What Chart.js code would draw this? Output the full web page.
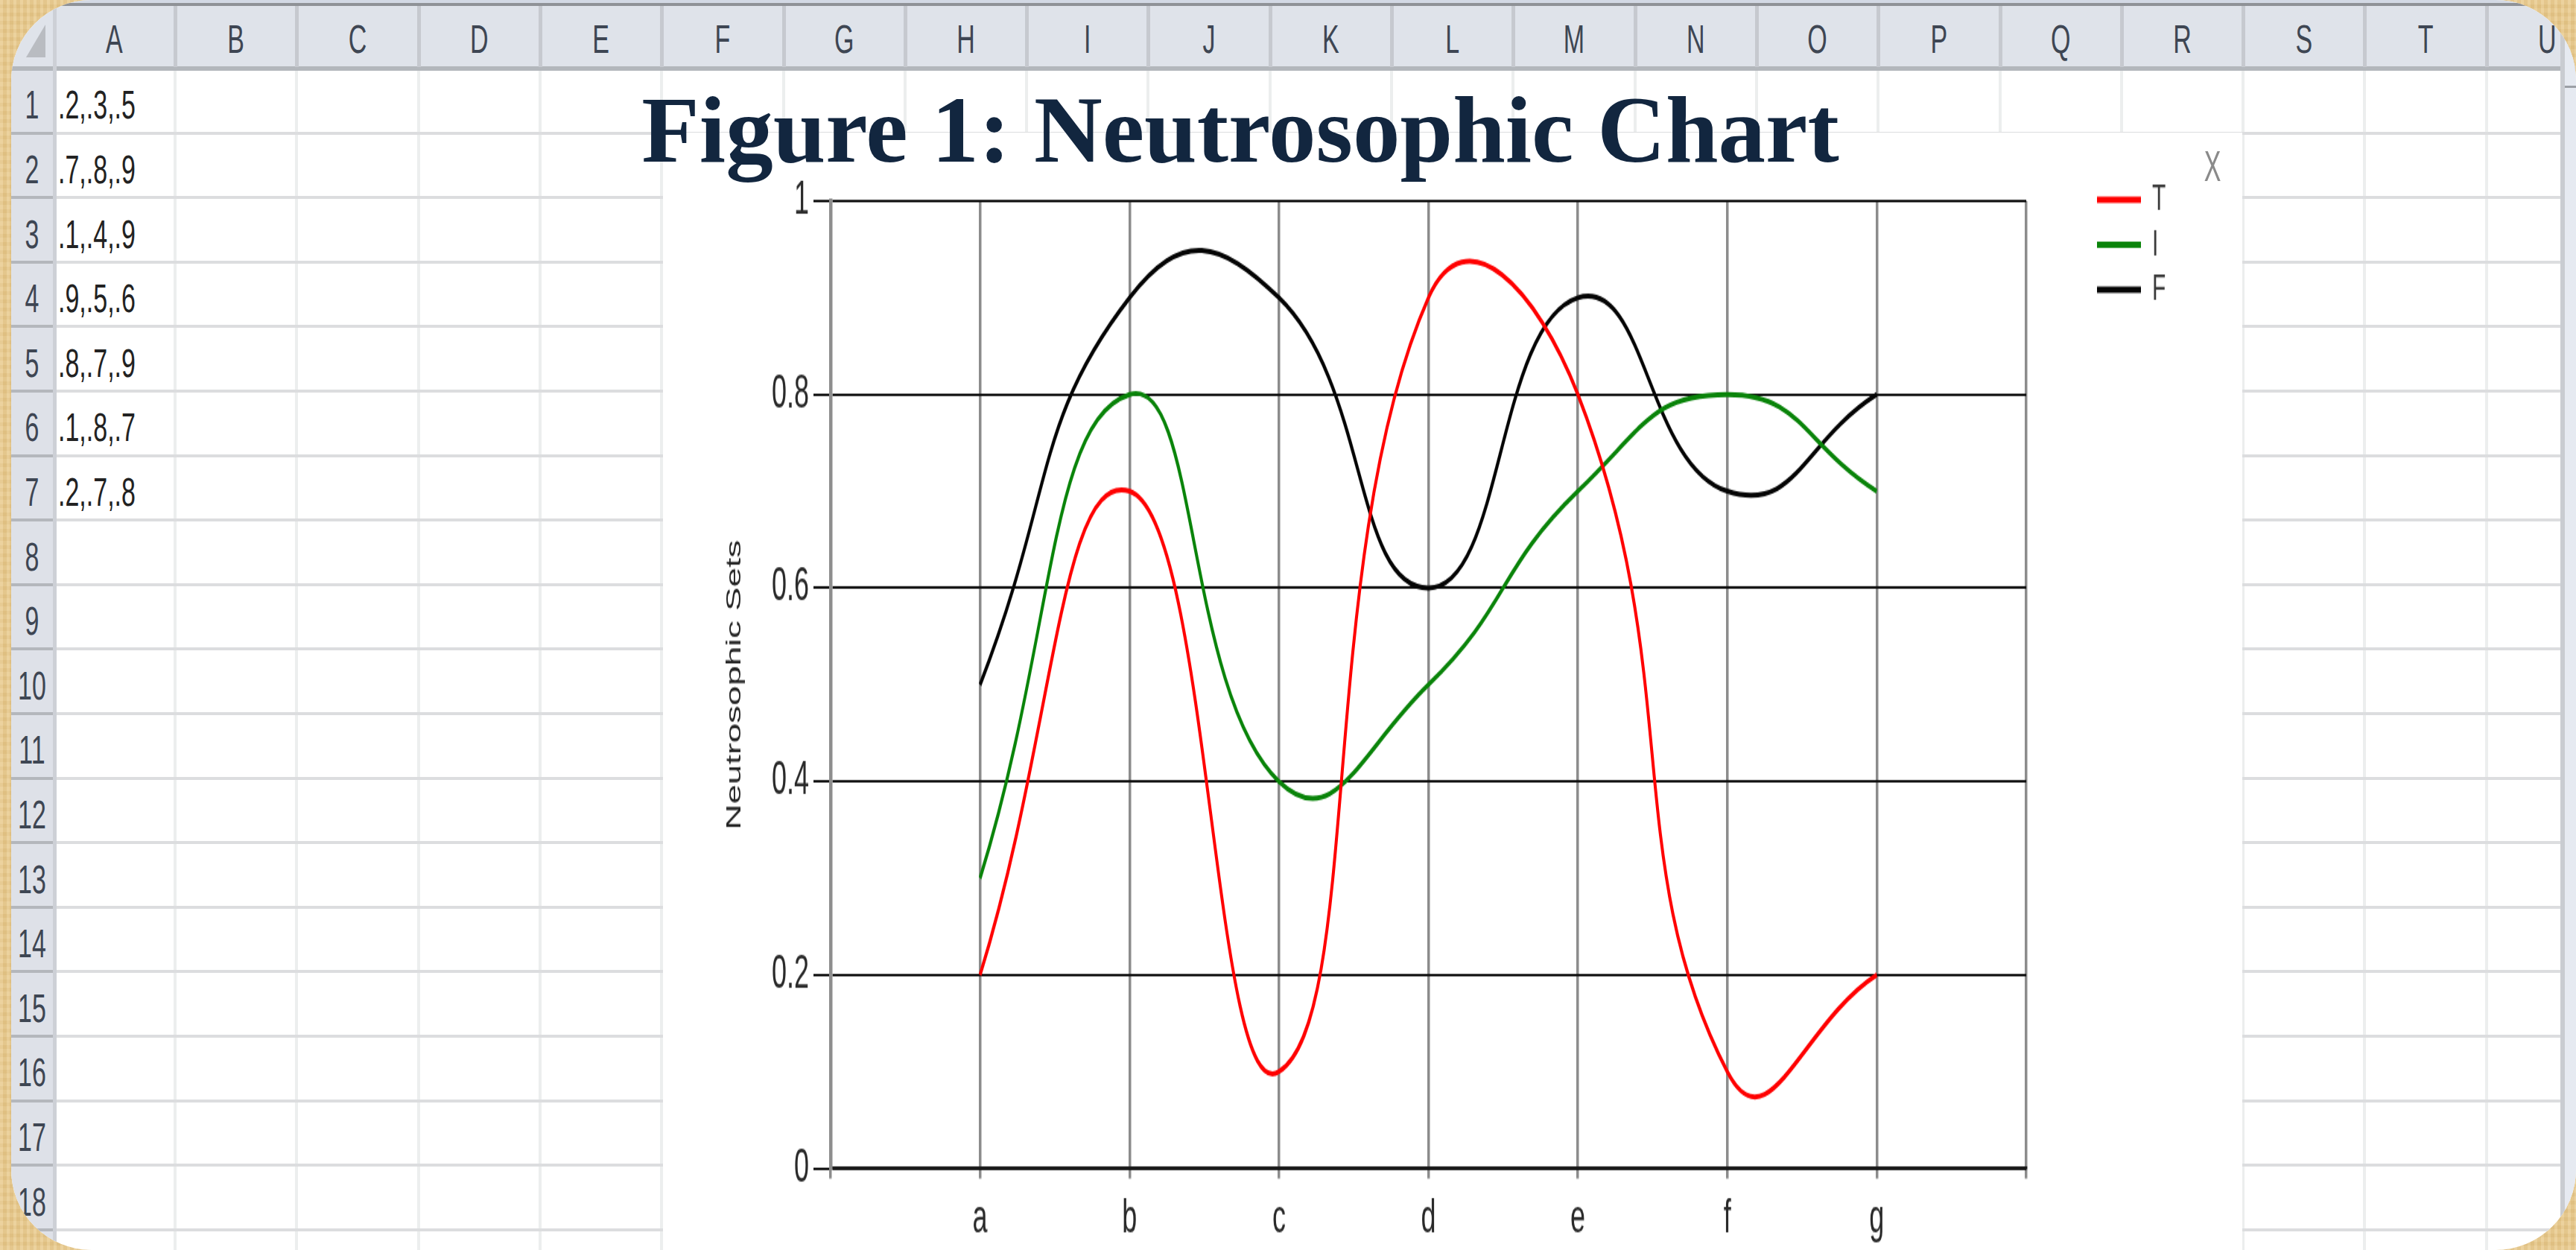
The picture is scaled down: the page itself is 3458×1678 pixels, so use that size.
<!DOCTYPE html>
<html>
<head>
<meta charset="utf-8">
<script src="https://cdn.jsdelivr.net/npm/chart.js@4.4.1/dist/chart.umd.min.js"></script>
<style>
html,body{margin:0;padding:0;width:3458px;height:1678px;overflow:hidden;}
body{position:relative;background:#E9CA8C;
  background-image:repeating-linear-gradient(90deg,rgba(255,255,255,0.10) 0 4px,rgba(120,80,20,0.05) 4px 9px),
                   repeating-linear-gradient(0deg,rgba(255,255,255,0.06) 0 6px,rgba(120,80,20,0.04) 6px 11px);}
#sheet{position:absolute;left:15px;top:0;width:3443px;height:1678px;border-radius:108px;overflow:hidden;background:#fff;}
.r{position:absolute;}
.txt{position:absolute;font-family:'Liberation Sans',Arial,sans-serif;font-size:34px;line-height:34px;height:34px;white-space:nowrap;}
.txt span{display:inline-block;transform:scaleY(1.6);}
.tri{position:absolute;width:0;height:0;border-left:26px solid transparent;border-bottom:44px solid #B9BCC1;}
#chartBox{position:absolute;left:890px;top:178px;width:2120px;height:1500px;background:#fff;overflow:hidden;}
#stretch{position:absolute;left:0;top:0;width:2120px;height:882px;transform-origin:0 0;transform:scaleY(1.70068);}
#xmark{position:absolute;left:2080px;top:9px;transform:translateX(-50%);font-family:'Liberation Sans',Arial,sans-serif;font-size:34px;line-height:34px;color:#8a8a8a;}
#title{position:absolute;left:1665px;top:111px;transform:translateX(-50%);white-space:nowrap;
  font-family:'Liberation Serif','Times New Roman',serif;font-weight:bold;font-size:127px;line-height:127px;color:#12263F;}
</style>
</head>
<body>
<div id="sheet"></div>
<div id="chartBox">
  <div id="stretch">
    <canvas id="c" width="2120" height="882"></canvas>
    <div id="xmark">X</div>
  </div>
</div>
<div id="title">Figure 1: Neutrosophic Chart</div>
<script>
// ---------- data ----------
const CATEGORIES = ['a', 'b', 'c', 'd', 'e', 'f', 'g'];
const T_VALUES = [0.2, 0.7, 0.1, 0.9, 0.8, 0.1, 0.2];
const I_VALUES = [0.3, 0.8, 0.4, 0.5, 0.7, 0.8, 0.7];
const F_VALUES = [0.5, 0.9, 0.9, 0.6, 0.9, 0.7, 0.8];
const SERIES_NAMES = ['T', 'I', 'F'];
const Y_TICK_LABELS = ['0', '0.2', '0.4', '0.6', '0.8', '1'];
const COLUMN_LETTERS = ['A','B','C','D','E','F','G','H','I','J','K','L','M','N','O','P','Q','R','S','T','U'];
const ROW_NUMBERS = [1,2,3,4,5,6,7,8,9,10,11,12,13,14,15,16,17,18];

// ---------- spreadsheet backdrop ----------
const sheet = document.getElementById('sheet');
const SX = 15;
function rect(x, y, w, h, c) {
  const d = document.createElement('div');
  d.className = 'r';
  d.style.cssText = `left:${x - SX}px;top:${y}px;width:${w}px;height:${h}px;background:${c};`;
  sheet.appendChild(d);
}
function text(str, x, cy, align, color) {
  const d = document.createElement('div');
  d.className = 'txt';
  d.style.top = (cy - 17) + 'px';
  d.style.left = (x - SX) + 'px';
  d.style.color = color;
  if (align === 'center') d.style.transform = 'translateX(-50%)';
  const s = document.createElement('span');
  s.textContent = str;
  d.appendChild(s);
  sheet.appendChild(d);
}
const COL0 = 235, COLW = 163.3, ROW0 = 92, ROWH = 86.6;
rect(15, 0, 3443, 4, '#D3D9E4');
rect(15, 4, 3443, 4, '#8F9297');
rect(15, 8, 3443, 82, '#DFE3EA');
rect(15, 89, 3443, 6, '#B3B7BC');
rect(15, 95, 56, 1583, '#DEE1E8');
for (let k = 0; k < COLUMN_LETTERS.length - 1; k++) {
  const x = COL0 + COLW * k - 2;
  rect(x, 8, 5, 82, '#C6C9CF');
  rect(x, 95, 4, 1583, '#ECEEEE');
}
ROW_NUMBERS.forEach((r) => {
  const y = ROW0 + ROWH * r - 2;
  rect(76, y, 3361, 4, '#DCDDDF');
  rect(15, y, 56, 4, '#B4B7BC');
});
rect(71, 8, 5, 1670, '#CDD0D6');
rect(3437, 8, 6, 1670, '#C9CCD1');
rect(3443, 8, 15, 1670, '#E6EAF1');
rect(3443, 115, 15, 3, '#9CA0A6');
const tri = document.createElement('div');
tri.className = 'tri';
tri.style.left = (35 - SX) + 'px';
tri.style.top = '33px';
sheet.appendChild(tri);

COLUMN_LETTERS.forEach((L, k) => text(L, COL0 - COLW / 2 + COLW * k, 52, 'center', '#3E4653'));
const fmt = (v) => v.toFixed(1).replace(/^0\./, '.');
ROW_NUMBERS.forEach((r, i) => {
  const cy = ROW0 + ROWH * (r - 0.5) + 5;
  text(String(r), 43, cy, 'center', '#3E4653');
  if (i < T_VALUES.length) {
    text([T_VALUES[i], I_VALUES[i], F_VALUES[i]].map(fmt).join(','), 78, cy, 'left', '#222');
  }
});

// ---------- chart ----------
const FONT = 'Liberation Sans';
const toPts = (vals) => vals.map((v, i) => ({ x: i + 1, y: v }));
const COLORS = ['#ff0000', '#0a840a', '#050505'];
const SERIES = [T_VALUES, I_VALUES, F_VALUES];

const legendPlacer = {
  id: 'legendPlacer',
  afterLayout(chart) {
    const lg = chart.legend;
    if (!lg) return;
    const w = lg.width, h = lg.height;
    lg.left = 1919.5; lg.right = lg.left + w;
    lg.top = 32.4; lg.bottom = lg.top + h;
  }
};

new Chart(document.getElementById('c'), {
  type: 'line',
  data: {
    datasets: SERIES.map((vals, s) => ({
      label: SERIES_NAMES[s],
      data: toPts(vals),
      borderColor: COLORS[s],
      backgroundColor: COLORS[s],
      borderWidth: 4,
      pointRadius: 0,
      tension: 0.5,
      fill: false
    }))
  },
  options: {
    responsive: false,
    animation: false,
    devicePixelRatio: 1,
    layout: { padding: { top: 54, right: 290, bottom: 0, left: 0 } },
    scales: {
      x: {
        type: 'linear',
        min: 0,
        max: CATEGORIES.length + 1,
        ticks: {
          stepSize: 1, autoSkip: false, maxRotation: 0, padding: 11,
          color: '#2a2a2a', font: { family: FONT, size: 36 },
          callback: (v) => CATEGORIES[v - 1] ?? ''
        },
        grid: { color: '#8c8c8c', lineWidth: 3.5, tickLength: 8 },
        border: { color: '#1a1a1a', width: 2.5 },
        afterFit: (s) => { s.height = 64.4; }
      },
      y: {
        min: 0,
        max: 1,
        ticks: {
          stepSize: 0.2, padding: 6,
          color: '#2a2a2a', font: { family: FONT, size: 36 },
          callback: (v, i) => Y_TICK_LABELS[i]
        },
        grid: { color: '#111111', lineWidth: 2, tickLength: 23 },
        border: { color: '#8e8e8e', width: 4.5 },
        title: {
          display: true, text: 'Neutrosophic Sets', color: '#222',
          font: { family: FONT, size: 28 }, padding: { top: 79, bottom: 0 }
        },
        afterFit: (s) => { s.width = 225; }
      }
    },
    plugins: {
      legend: {
        position: 'chartArea',
        align: 'start',
        labels: {
          boxWidth: 59, boxHeight: 5, padding: 5.5,
          color: '#3a3a3a', font: { family: FONT, size: 30 },
          generateLabels: (chart) => Chart.defaults.plugins.legend.labels.generateLabels(chart)
            .map((l) => Object.assign({}, l, { fillStyle: l.strokeStyle, lineWidth: 0 }))
        }
      },
      tooltip: { enabled: false }
    }
  },
  plugins: [legendPlacer]
});
</script>
</body>
</html>
